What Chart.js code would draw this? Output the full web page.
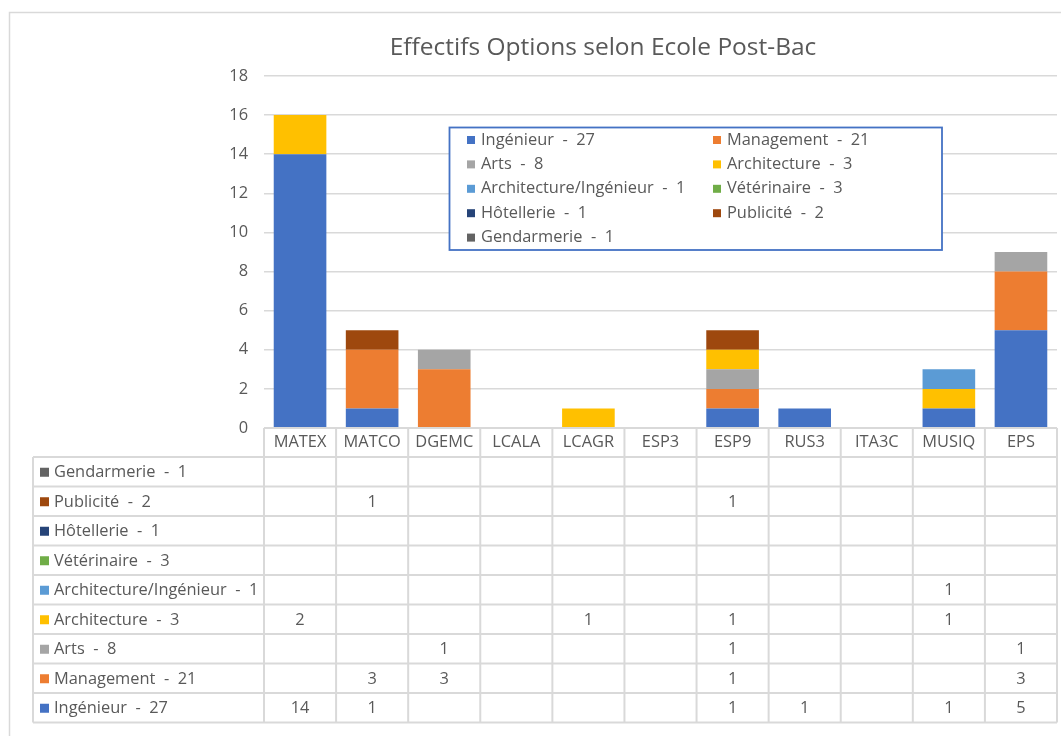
<!DOCTYPE html>
<html lang="fr">
<head>
<meta charset="utf-8">
<title>Effectifs Options selon Ecole Post-Bac</title>
<script src="https://cdn.jsdelivr.net/npm/chart.js@4.4.1/dist/chart.umd.min.js"></script>
<style>
  html, body { margin: 0; padding: 0; background: #fff; }
  #wrap { width: 1061px; height: 736px; }
</style>
</head>
<body>
<div id="wrap"><canvas id="effectifsChart" width="1061" height="736"></canvas></div>
<script>
// Ecoles / filières (axe des x)
const ecoles = ['MATEX', 'MATCO', 'DGEMC', 'LCALA', 'LCAGR', 'ESP3', 'ESP9', 'RUS3', 'ITA3C', 'MUSIQ', 'EPS'];

// Effectifs par option (null = case vide du tableau)
const ingenieur    = [14, 1, null, null, null, null, 1, 1, null, 1, 5];
const management   = [null, 3, 3, null, null, null, 1, null, null, null, 3];
const arts         = [null, null, 1, null, null, null, 1, null, null, null, 1];
const architecture = [2, null, null, null, 1, null, 1, null, null, 1, null];
const archiIng     = [null, null, null, null, null, null, null, null, null, 1, null];
const veterinaire  = [null, null, null, null, null, null, null, null, null, null, null];
const hotellerie   = [null, null, null, null, null, null, null, null, null, null, null];
const publicite    = [null, 1, null, null, null, null, 1, null, null, null, null];
const gendarmerie  = [null, null, null, null, null, null, null, null, null, null, null];

// Libellés des séries (avec le total indiqué dans la légende)
const optionLabels = [
    'Ingénieur  -  27', 'Management  -  21', 'Arts  -  8', 'Architecture  -  3',
    'Architecture/Ingénieur  -  1', 'Vétérinaire  -  3', 'Hôtellerie  -  1',
    'Publicité  -  2', 'Gendarmerie  -  1'
];
const optionColors = [
    '#4472C4', '#ED7D31', '#A5A5A5', '#FFC000',
    '#5B9BD5', '#70AD47', '#264478', '#9E480E', '#636363'
];

// Graduations de l'axe des y
const yTicks = [0, 2, 4, 6, 8, 10, 12, 14, 16, 18];

const chartTitle = 'Effectifs Options selon Ecole Post-Bac';
const FONT = '"Open Sans", "Noto Sans", sans-serif';
const TEXT = '#595959';
const LINE = '#d9d9d9';
const FS = 16.4;

const series = [ingenieur, management, arts, architecture, archiIng, veterinaire, hotellerie, publicite, gendarmerie];

// Cadre, titre, légende et tableau de données façon Excel
const excelDecor = {
    id: 'excelDecor',
    beforeDraw(chart) {
        const c = chart.ctx;
        c.save();
        c.fillStyle = '#fff';
        c.fillRect(0, 0, chart.width, chart.height);
        c.strokeStyle = LINE;
        c.lineWidth = 1.5;
        c.strokeRect(9.5, 12.5, 1200, 1000);
        c.fillStyle = TEXT;
        c.font = '24.5px ' + FONT;
        c.textAlign = 'center';
        c.textBaseline = 'middle';
        c.fillText(chartTitle, 603, 48);
        c.restore();
    },
    afterDraw(chart) {
        const c = chart.ctx;
        const area = chart.chartArea;
        const xs = chart.scales.x;
        const colW = (area.right - area.left) / ecoles.length;
        const headTop = area.bottom;
        const headH = 29;
        const rowH = 29.5;
        const labelLeft = 33;
        const tableTop = headTop + headH;
        const tableBottom = tableTop + rowH * series.length;

        c.save();
        c.strokeStyle = LINE;
        c.lineWidth = 2;
        c.fillStyle = TEXT;
        c.font = FS + 'px ' + FONT;
        c.textBaseline = 'middle';

        // en-tête : noms des écoles
        c.textAlign = 'center';
        ecoles.forEach((name, i) => {
            const cx = xs.getPixelForValue(i);
            c.fillText(name, cx, headTop + headH / 2);
        });

        // lignes horizontales
        c.beginPath();
        c.moveTo(area.left, headTop);
        c.lineTo(area.right, headTop);
        for (let k = 0; k <= series.length; k++) {
            const y = tableTop + k * rowH;
            c.moveTo(labelLeft, y);
            c.lineTo(area.right, y);
        }
        // lignes verticales
        c.moveTo(labelLeft, tableTop);
        c.lineTo(labelLeft, tableBottom);
        for (let i = 0; i <= ecoles.length; i++) {
            const x = area.left + i * colW;
            c.moveTo(x, headTop);
            c.lineTo(x, tableBottom);
        }
        c.stroke();

        // lignes du tableau (ordre inverse : Gendarmerie en haut)
        const order = series.map((_, i) => i).reverse();
        order.forEach((si, k) => {
            const cy = tableTop + k * rowH + rowH / 2 + 1;
            c.fillStyle = optionColors[si];
            c.fillRect(40, cy - 5, 9, 9);
            c.fillStyle = TEXT;
            c.textAlign = 'left';
            c.fillText(optionLabels[si], 54, cy);
            c.textAlign = 'center';
            series[si].forEach((v, i) => {
                if (v === null) return;
                c.fillText(String(v), xs.getPixelForValue(i), cy);
            });
        });

        // légende encadrée dans la zone de tracé
        const box = { l: 449.5, t: 127.5, r: 942, b: 250 };
        c.fillStyle = '#fff';
        c.fillRect(box.l, box.t, box.r - box.l, box.b - box.t);
        c.strokeStyle = '#4472C4';
        c.lineWidth = 1.8;
        c.strokeRect(box.l, box.t, box.r - box.l, box.b - box.t);
        const colX = [467, 713];
        optionLabels.forEach((label, i) => {
            const x = colX[i % 2];
            const y = 140 + Math.floor(i / 2) * 24.4;
            c.fillStyle = optionColors[i];
            c.fillRect(x, y - 4, 8, 8);
            c.fillStyle = TEXT;
            c.textAlign = 'left';
            c.fillText(label, x + 14, y);
        });
        c.restore();
    }
};

new Chart(document.getElementById('effectifsChart'), {
    type: 'bar',
    data: {
        labels: ecoles,
        datasets: series.map((data, i) => ({
            label: optionLabels[i],
            data: data,
            backgroundColor: optionColors[i],
            borderWidth: 0,
            categoryPercentage: 1,
            barPercentage: 0.73
        }))
    },
    options: {
        responsive: false,
        animation: false,
        devicePixelRatio: 1,
        layout: {
            padding: { left: 0, right: 4, top: 76, bottom: 308 }
        },
        plugins: {
            legend: { display: false },
            title: { display: false },
            tooltip: { enabled: false }
        },
        scales: {
            x: {
                stacked: true,
                display: false
            },
            y: {
                stacked: true,
                min: 0,
                max: 18,
                afterBuildTicks: (scale) => {
                    scale.ticks = yTicks.map(v => ({ value: v }));
                },
                afterFit: (scale) => {
                    scale.width = 264;
                },
                border: { display: false },
                grid: {
                    color: LINE,
                    lineWidth: 1.5,
                    drawTicks: false
                },
                ticks: {
                    padding: 16,
                    color: TEXT,
                    font: { family: FONT, size: FS }
                }
            }
        }
    },
    plugins: [excelDecor]
});
</script>
</body>
</html>
